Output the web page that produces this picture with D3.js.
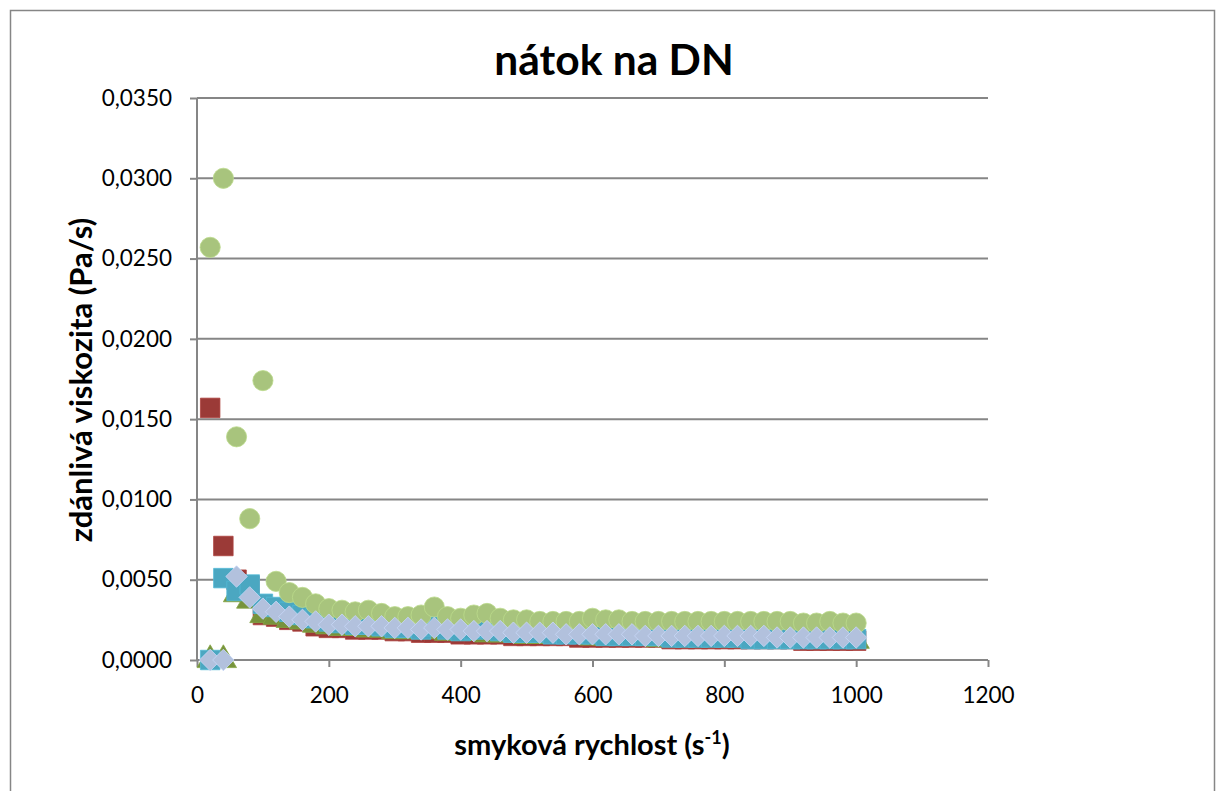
<!DOCTYPE html>
<html><head><meta charset="utf-8">
<script src="https://cdn.jsdelivr.net/npm/d3@7"></script>
<style>body{margin:0;background:#fff}svg{display:block}text{font-family:Lato,"Open Sans",sans-serif;fill:#000}</style>
</head><body>
<script>
const xValues = [20,40,60,80,100,120,140,160,180,200,220,240,260,280,300,320,340,360,380,400,420,440,460,480,500,520,540,560,580,600,620,640,660,680,700,720,740,760,780,800,820,840,860,880,900,920,940,960,980,1000];
const redSquares = [0.0157,0.0071,0.0050,0.0046,0.0028,0.0027,0.0025,0.0024,0.0021,0.0020,
0.0020,0.0019,0.0019,0.0019,0.0018,0.0018,0.0017,0.0017,0.0017,0.0016,
0.0016,0.0016,0.0016,0.0015,0.0015,0.0015,0.0015,0.0015,0.0014,0.0014,
0.0014,0.0014,0.0014,0.0014,0.0014,0.0013,0.0013,0.0013,0.0013,0.0013,
0.0013,0.0013,0.0013,0.0013,0.0013,0.0012,0.0012,0.0012,0.0012,0.0012];
const oliveTriangles = [0,0,0.0041,0.0037,0.0028,0.0027,0.0025,0.0024,0.0022,0.0021,
0.0020,0.0020,0.0019,0.0019,0.0018,0.0018,0.0018,0.0018,0.0017,0.0017,
0.0017,0.0016,0.0016,0.0016,0.0015,0.0015,0.0015,0.0015,0.0015,0.0014,
0.0014,0.0014,0.0014,0.0014,0.0013,0.0013,0.0013,0.0013,0.0013,0.0013,
0.0013,0.0013,0.0012,0.0012,0.0012,0.0012,0.0012,0.0012,0.0012,0.0012];
const blueSquares = [0,0.0051,0.0043,0.0047,0.0035,0.0033,0.0030,0.0028,0.0026,0.0024,
0.0023,0.0022,0.0022,0.0021,0.0020,0.0020,0.0019,0.0021,0.0019,0.0018,
0.0019,0.0020,0.0018,0.0017,0.0017,0.0017,0.0016,0.0016,0.0016,0.0016,
0.0015,0.0015,0.0015,0.0015,0.0015,0.0014,0.0014,0.0014,0.0014,0.0014,
0.0014,0.0013,0.0013,0.0013,0.0013,0.0013,0.0013,0.0013,0.0013,0.0013];
const greenCircles = [0.0257,0.0300,0.0139,0.0088,0.0174,0.0049,0.0042,0.0039,0.0035,0.0032,
0.0031,0.0030,0.0031,0.0029,0.0027,0.0027,0.0028,0.0033,0.0027,0.0026,
0.0028,0.0029,0.0026,0.0025,0.0025,0.0024,0.0024,0.0024,0.0024,0.0026,
0.0025,0.0025,0.0024,0.0024,0.0024,0.0024,0.0024,0.0024,0.0024,0.0024,
0.0024,0.0024,0.0024,0.0024,0.0024,0.0023,0.0023,0.0024,0.0023,0.0023];
const lavenderDiamonds = [0,0,0.0052,0.0039,0.0032,0.0030,0.0027,0.0025,0.0024,0.0022,
0.0022,0.0021,0.0021,0.0021,0.0020,0.0020,0.0019,0.0020,0.0019,0.0019,
0.0018,0.0018,0.0018,0.0017,0.0017,0.0017,0.0017,0.0016,0.0016,0.0016,
0.0016,0.0016,0.0016,0.0015,0.0015,0.0015,0.0015,0.0015,0.0015,0.0015,
0.0015,0.0015,0.0015,0.0014,0.0014,0.0014,0.0014,0.0014,0.0014,0.0014];
const xTicks = [0,200,400,600,800,1000,1200];
const yTicks = [0,0.005,0.010,0.015,0.020,0.025,0.030,0.035];
const titleText = "nátok na DN";
const xTitle = "smyková rychlost (s";
const yTitle = "zdánlivá viskozita (Pa/s)";

const W = 1218, H = 791;
const mLeft = 197, mRight = 988, mTop = 98, mBottom = 660;
const svg = d3.select("body").append("svg").attr("width", W).attr("height", H);
svg.append("rect").attr("x",10.5).attr("y",10.5).attr("width",1204).attr("height",800)
  .attr("fill","#fff").attr("stroke","#868686").attr("stroke-width",1.5);

const x = d3.scaleLinear().domain([0,1200]).range([mLeft,mRight]);
const y = d3.scaleLinear().domain([0,0.035]).range([mBottom,mTop]);

svg.append("g").selectAll("line").data(yTicks.filter(d=>d>0)).join("line")
  .attr("x1",mLeft).attr("x2",mRight).attr("y1",d=>y(d)).attr("y2",d=>y(d))
  .attr("stroke","#868686").attr("stroke-width",2);

const fmt = d => d.toFixed(4).replace(".", ",");
const yAxis = svg.append("g").attr("transform",`translate(${mLeft},0)`)
  .call(d3.axisLeft(y).tickValues(yTicks).tickFormat(fmt).tickSize(7).tickPadding(18));
const xAxis = svg.append("g").attr("transform",`translate(0,${mBottom})`)
  .call(d3.axisBottom(x).tickValues(xTicks).tickFormat(d3.format("d")).tickSize(7).tickPadding(20));
[yAxis,xAxis].forEach(a=>{
  a.select(".domain").attr("stroke","#868686").attr("stroke-width",2);
  a.selectAll(".tick line").attr("stroke","#868686").attr("stroke-width",2);
  a.selectAll(".tick text").attr("font-size",22.5).attr("font-family","Lato").attr("fill","#000");
});
xAxis.select(".domain").attr("d",`M${mLeft},0H${mRight}`);
yAxis.select(".domain").attr("d",`M0,${mTop}V${mBottom}`);

const pts = arr => xValues.map((xv,i)=>({x:xv,y:arr[i]}));
const plot = svg.append("g");
function series(arr, type, size, color, rot){
  plot.append("g").selectAll("path").data(pts(arr)).join("path")
    .attr("transform",d=>`translate(${x(d.x)},${y(d.y)}) rotate(${rot||0})`)
    .attr("d", d3.symbol().type(type).size(size)())
    .attr("fill",color).attr("stroke",d3.color(color).brighter(0.3)).attr("stroke-width",0.8);
}
series(redSquares, d3.symbolSquare, 380, "#9B3A37");
series(oliveTriangles, d3.symbolTriangle, 300, "#77933C");
series(blueSquares, d3.symbolSquare, 380, "#4BA7C1");
series(greenCircles, d3.symbolCircle, 320, "#A8C47D");
series(lavenderDiamonds, d3.symbolSquare, 230, "#B2C1DD", 45);

svg.append("text").attr("x",614).attr("y",75).attr("text-anchor","middle")
  .attr("font-size",42.5).attr("font-weight","bold").text(titleText);
const xt = svg.append("text").attr("x",592).attr("y",755).attr("text-anchor","middle")
  .attr("font-size",29).attr("font-weight","bold");
xt.append("tspan").text(xTitle);
xt.append("tspan").attr("font-size",18).attr("dy",-11).text("-1");
xt.append("tspan").attr("dy",11).text(")");
svg.append("text").attr("transform","translate(92,380) rotate(-90)").attr("text-anchor","middle")
  .attr("font-size",31).attr("font-weight","bold").text(yTitle);
</script>
</body></html>
